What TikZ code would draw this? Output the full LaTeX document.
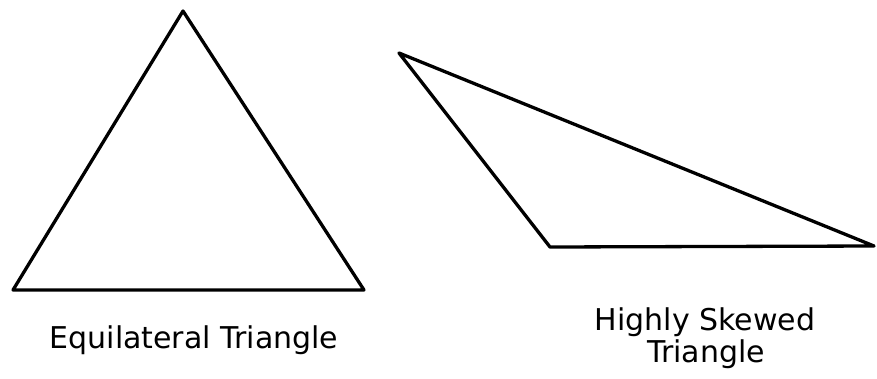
\documentclass[tikz,border=0pt]{standalone}
\usepackage{fontspec}
\setmainfont{DejaVu Sans}
\begin{document}
\begin{tikzpicture}[x=1pt,y=-1pt,
  tri/.style={draw=black,line width=3.3pt,line join=round},
  lbl/.style={font=\fontsize{30}{34}\selectfont,inner sep=0pt,anchor=base,align=center}]
\useasboundingbox (0,0) rectangle (877,378);
\coordinate (a1) at (183,11);
\coordinate (a2) at (13,290);
\coordinate (a3) at (364,290);
\draw[tri] (a1) -- (a2) -- (a3) -- cycle;
\coordinate (b1) at (399,53);
\coordinate (b2) at (550,247);
\coordinate (b3) at (874,246);
\draw[tri] (b1) -- (b2) -- (b3) -- cycle;
\node[lbl] (eq) at (194,348) {Equilateral Triangle};
\node[lbl] (sk1) at (705,330) {Highly Skewed};
\node[lbl] (sk2) at (706,362) {Triangle};
\end{tikzpicture}
\end{document}
